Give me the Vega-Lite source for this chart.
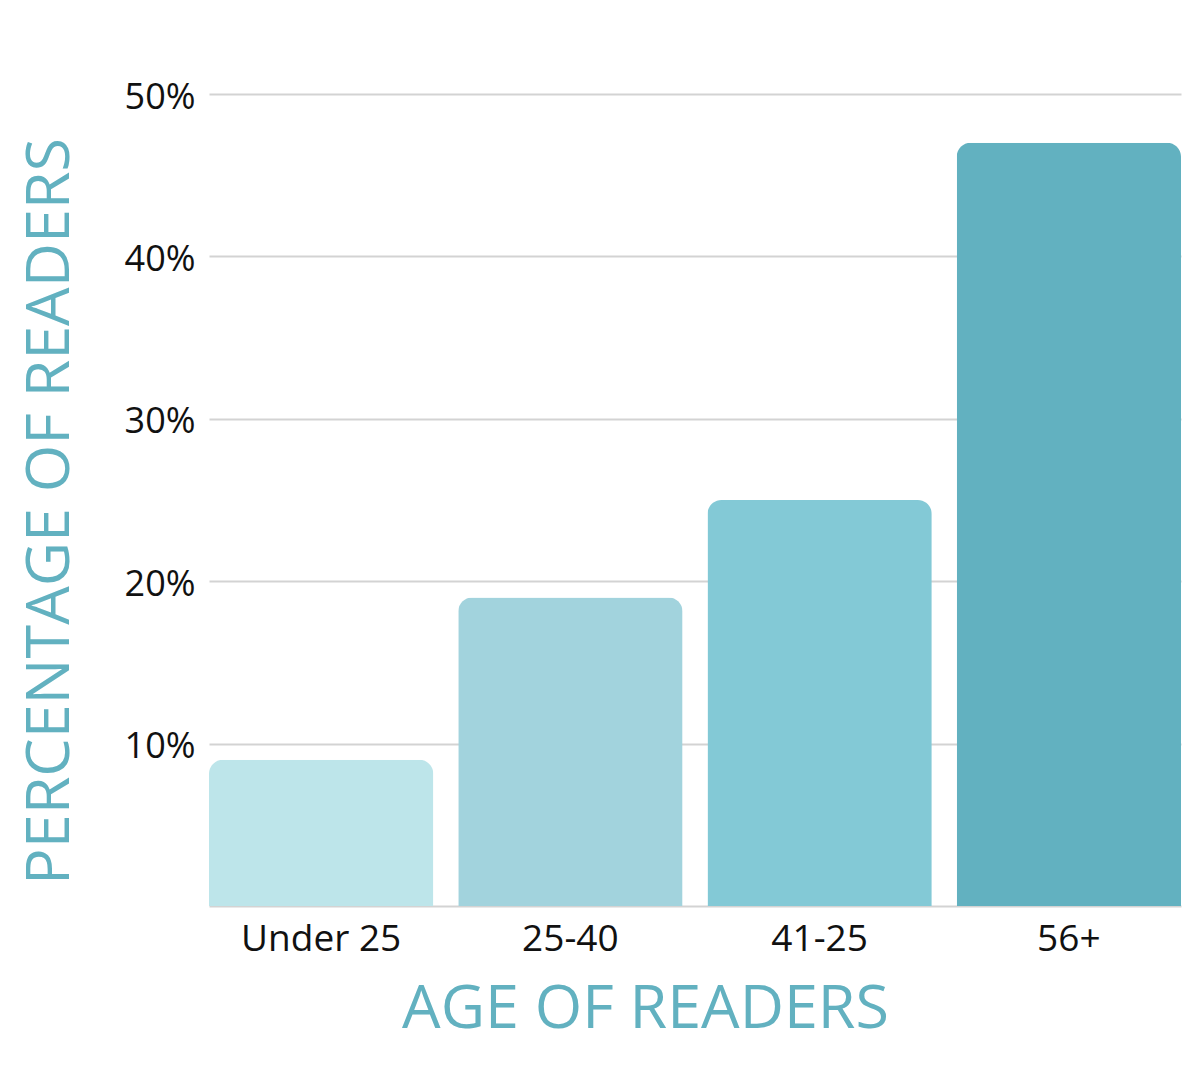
{
  "$schema": "https://vega.github.io/schema/vega-lite/v6.json",
  "autosize": "none",
  "width": 972,
  "height": 812,
  "padding": {"left": 209, "top": 94, "right": 19, "bottom": 164},
  "background": "white",
  "config": {
    "view": {"stroke": null},
    "font": "Open Sans"
  },
  "data": {
    "values": [
      {"age": "Under 25", "pct": 9, "color": "#BDE5EA"},
      {"age": "25-40", "pct": 19, "color": "#A2D3DD"},
      {"age": "41-25", "pct": 25, "color": "#83C9D6"},
      {"age": "56+", "pct": 47, "color": "#62B1C0"}
    ]
  },
  "mark": {"type": "bar", "cornerRadiusTopLeft": 14, "cornerRadiusTopRight": 14},
  "encoding": {
    "x": {
      "field": "age",
      "type": "nominal",
      "sort": null,
      "scale": {"paddingInner": 0.1, "paddingOuter": 0},
      "axis": {
        "title": "AGE OF READERS",
        "labelAngle": 0,
        "domain": false,
        "ticks": false,
        "labelFontSize": 37,
        "labelColor": "#111111",
        "labelPadding": 15,
        "titleFontSize": 61,
        "titleFontWeight": "normal",
        "titleColor": "#62B1C0",
        "titleX": 436,
        "titleY": 73,
        "titleAlign": "center",
        "titleBaseline": "top"
      }
    },
    "y": {
      "field": "pct",
      "type": "quantitative",
      "scale": {"domain": [0, 50]},
      "axis": {
        "title": "PERCENTAGE OF READERS",
        "values": [0, 10, 20, 30, 40, 50],
        "labelExpr": "datum.value == 0 ? '' : datum.value + '%'",
        "domain": false,
        "ticks": false,
        "labelFontSize": 36,
        "labelColor": "#111111",
        "labelPadding": 14,
        "labelOffset": 3,
        "gridColor": "#D3D3D3",
        "gridWidth": 2,
        "titleFontSize": 61,
        "titleFontWeight": "normal",
        "titleColor": "#62B1C0",
        "titleX": -159,
        "titleY": 417,
        "titleBaseline": "middle",
        "titleAnchor": "middle"
      }
    },
    "color": {"field": "color", "type": "nominal", "scale": null, "legend": null}
  }
}
